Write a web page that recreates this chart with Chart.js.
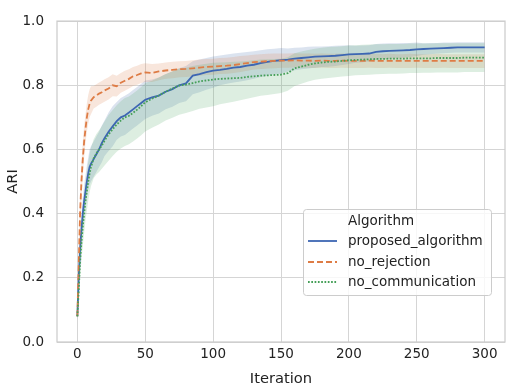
<!DOCTYPE html>
<html>
<head>
<meta charset="utf-8">
<script src="https://cdn.jsdelivr.net/npm/chart.js@4.4.1/dist/chart.umd.min.js"></script>
<style>
  html, body { margin: 0; padding: 0; background: #ffffff; }
  #wrap { width: 510px; height: 389px; }
</style>
</head>
<body>
<div id="wrap"><canvas id="c" width="510" height="389"></canvas></div>
<script>
const iterations = [0,1,2,3,4,5,6,7,8,9,10,12,14,16,18,20,23,26,29,32,35,38,41,44,47,50,
  55,60,65,70,75,80,85,90,95,100,105,110,115,120,125,130,135,140,145,150,
  155,160,165,170,175,180,185,190,195,200,205,210,215,220,225,230,235,240,245,250,
  255,260,265,270,275,280,285,290,295,300];

const seriesNames = ['proposed_algorithm', 'no_rejection', 'no_communication'];
const legendTitle = 'Algorithm';
const xTicks = [0, 50, 100, 150, 200, 250, 300];
const yTicks = [0.0, 0.2, 0.4, 0.6, 0.8, 1.0];

const proposedMean = [0.08,0.20,0.29,0.35,0.40,0.44,0.47,0.50,0.525,0.545,0.555,
  0.57,0.585,0.60,0.62,0.635,
  0.655,0.672,0.688,0.70,0.706,0.715,0.725,0.735,0.745,0.755,
  0.762,0.768,0.78,0.788,0.80,0.806,0.83,0.835,0.841,0.846,
  0.848,0.851,0.855,0.857,0.861,0.864,0.869,0.873,0.876,0.878,
  0.880,0.883,0.885,0.887,0.889,0.890,0.891,0.892,0.894,0.896,
  0.897,0.898,0.899,0.904,0.906,0.907,0.908,0.909,0.910,0.912,
  0.913,0.914,0.915,0.916,0.917,0.918,0.918,0.918,0.918,0.918];
const proposedLow = [0.07,0.16,0.24,0.30,0.35,0.39,0.42,0.45,0.475,0.49,0.50,
  0.515,0.53,0.545,0.56,0.58,
  0.595,0.61,0.63,0.64,0.645,0.655,0.665,0.675,0.685,0.695,
  0.705,0.712,0.725,0.733,0.745,0.75,0.772,0.778,0.786,0.792,
  0.800,0.805,0.809,0.812,0.816,0.820,0.826,0.830,0.834,0.836,
  0.843,0.847,0.850,0.852,0.855,0.857,0.858,0.860,0.863,0.866,
  0.870,0.872,0.874,0.879,0.881,0.883,0.885,0.886,0.888,0.891,
  0.895,0.897,0.899,0.900,0.901,0.902,0.902,0.902,0.902,0.902];
const proposedHigh = [0.09,0.24,0.34,0.40,0.45,0.49,0.52,0.55,0.575,0.60,0.61,
  0.625,0.64,0.655,0.675,0.69,
  0.715,0.735,0.748,0.76,0.767,0.775,0.785,0.795,0.805,0.815,
  0.818,0.824,0.835,0.843,0.853,0.86,0.875,0.88,0.885,0.89,
  0.893,0.896,0.899,0.901,0.904,0.906,0.909,0.912,0.914,0.916,
  0.915,0.917,0.918,0.920,0.921,0.921,0.922,0.923,0.924,0.925,
  0.923,0.924,0.925,0.929,0.930,0.931,0.931,0.932,0.932,0.933,
  0.931,0.932,0.932,0.933,0.933,0.934,0.934,0.934,0.934,0.934];

const noRejectionMean = [0.08,0.24,0.40,0.50,0.57,0.625,0.665,0.70,0.725,0.742,0.752,
  0.763,0.768,0.774,0.778,0.784,
  0.79,0.80,0.797,0.808,0.814,0.82,0.828,0.832,0.837,0.84,
  0.838,0.843,0.846,0.848,0.850,0.851,0.853,0.855,0.857,0.858,
  0.860,0.861,0.863,0.866,0.869,0.872,0.874,0.875,0.876,0.877,
  0.877,0.878,0.877,0.877,0.876,0.877,0.876,0.876,0.877,0.876,
  0.876,0.876,0.877,0.876,0.876,0.876,0.876,0.876,0.876,0.876,
  0.876,0.876,0.876,0.876,0.876,0.876,0.876,0.876,0.876,0.876];
const noRejectionLow = [0.07,0.19,0.34,0.44,0.515,0.575,0.62,0.655,0.68,0.70,0.71,
  0.728,0.733,0.739,0.744,0.749,
  0.756,0.766,0.765,0.777,0.783,0.79,0.798,0.802,0.807,0.81,
  0.81,0.816,0.82,0.822,0.825,0.826,0.828,0.83,0.832,0.833,
  0.835,0.836,0.838,0.841,0.845,0.849,0.851,0.852,0.853,0.855,
  0.855,0.856,0.855,0.855,0.854,0.855,0.854,0.854,0.855,0.854,
  0.854,0.854,0.855,0.854,0.854,0.855,0.854,0.854,0.854,0.855,
  0.854,0.854,0.854,0.855,0.854,0.854,0.854,0.854,0.854,0.854];
const noRejectionHigh = [0.09,0.29,0.46,0.56,0.625,0.675,0.71,0.745,0.77,0.787,0.797,
  0.798,0.803,0.809,0.813,0.819,
  0.825,0.834,0.83,0.838,0.845,0.85,0.857,0.861,0.866,0.869,
  0.866,0.868,0.871,0.873,0.875,0.876,0.878,0.88,0.882,0.883,
  0.885,0.886,0.888,0.891,0.893,0.895,0.897,0.898,0.899,0.899,
  0.899,0.900,0.899,0.899,0.898,0.899,0.898,0.898,0.899,0.898,
  0.898,0.898,0.899,0.898,0.897,0.898,0.897,0.897,0.898,0.897,
  0.897,0.897,0.898,0.897,0.897,0.897,0.897,0.897,0.897,0.897];

const noCommunicationMean = [0.08,0.16,0.25,0.31,0.36,0.40,0.44,0.47,0.50,0.525,0.545,
  0.572,0.588,0.60,0.612,0.627,
  0.647,0.663,0.678,0.69,0.70,0.705,0.714,0.724,0.735,0.747,
  0.758,0.768,0.78,0.79,0.799,0.802,0.807,0.812,0.815,0.818,
  0.820,0.821,0.822,0.823,0.826,0.828,0.830,0.831,0.832,0.833,
  0.838,0.853,0.858,0.864,0.868,0.871,0.873,0.874,0.876,0.878,
  0.879,0.880,0.881,0.882,0.882,0.883,0.883,0.883,0.884,0.884,
  0.884,0.884,0.885,0.885,0.885,0.885,0.886,0.886,0.886,0.886];
const noCommunicationLow = [0.07,0.12,0.20,0.255,0.30,0.34,0.38,0.41,0.44,0.465,0.485,
  0.51,0.522,0.53,0.54,0.55,
  0.565,0.58,0.593,0.603,0.611,0.616,0.625,0.634,0.644,0.656,
  0.668,0.678,0.69,0.699,0.708,0.714,0.72,0.727,0.731,0.735,
  0.741,0.745,0.749,0.753,0.758,0.763,0.767,0.77,0.773,0.776,
  0.783,0.798,0.805,0.812,0.817,0.82,0.823,0.825,0.827,0.829,
  0.831,0.832,0.833,0.834,0.835,0.836,0.836,0.837,0.838,0.838,
  0.839,0.839,0.84,0.84,0.84,0.84,0.841,0.841,0.841,0.841];
const noCommunicationHigh = [0.09,0.20,0.30,0.365,0.42,0.46,0.50,0.53,0.56,0.585,0.605,
  0.632,0.648,0.66,0.672,0.687,
  0.707,0.723,0.738,0.75,0.76,0.765,0.774,0.784,0.795,0.807,
  0.814,0.824,0.834,0.844,0.852,0.855,0.86,0.864,0.867,0.87,
  0.871,0.872,0.873,0.874,0.876,0.878,0.88,0.881,0.882,0.883,
  0.887,0.90,0.905,0.91,0.914,0.917,0.919,0.92,0.922,0.924,
  0.925,0.926,0.927,0.928,0.928,0.929,0.929,0.929,0.93,0.93,
  0.93,0.93,0.931,0.931,0.931,0.931,0.931,0.931,0.931,0.931];

const colors = ['#3d66b3', '#de7c45', '#459f58'];
const bandColors = ['rgba(76,114,176,0.2)', 'rgba(221,132,82,0.2)', 'rgba(85,168,104,0.2)'];
const dashes = [[], [6, 3], [1.7, 1.6]];

const means = [proposedMean, noRejectionMean, noCommunicationMean];
const lows = [proposedLow, noRejectionLow, noCommunicationLow];
const highs = [proposedHigh, noRejectionHigh, noCommunicationHigh];

const pts = ys => iterations.map((x, i) => ({ x: x, y: ys[i] }));

const datasets = [];
for (let k = 0; k < 3; k++) {
  datasets.push({ label: seriesNames[k] + ' hi', data: pts(highs[k]), borderWidth: 0, pointRadius: 0,
    backgroundColor: bandColors[k], borderColor: 'rgba(0,0,0,0)', fill: '+1', order: 20 - k, isBand: true });
  datasets.push({ label: seriesNames[k] + ' lo', data: pts(lows[k]), borderWidth: 0, pointRadius: 0,
    backgroundColor: bandColors[k], borderColor: 'rgba(0,0,0,0)', fill: false, order: 20 - k, isBand: true });
}
for (let k = 0; k < 3; k++) {
  datasets.push({ label: seriesNames[k], data: pts(means[k]), borderColor: colors[k], borderWidth: 1.8,
    borderDash: dashes[k], borderCapStyle: 'butt', pointRadius: 0, fill: false, tension: 0, order: 3 - k });
}

const FONT = 'DejaVu Sans';
const TEXT = '#222222';

const framePlugin = {
  id: 'frame',
  afterDatasetsDraw(chart) {
    const a = chart.chartArea, ctx = chart.ctx;
    ctx.save();
    ctx.strokeStyle = '#cccccc';
    ctx.lineWidth = 1.25;
    ctx.strokeRect(a.left, a.top, a.right - a.left, a.bottom - a.top);
    ctx.restore();
  },
  afterDraw(chart) {
    const ctx = chart.ctx;
    const lines = chart.data.datasets.filter(d => !d.isBand);
    const bx = 303.5, by = 209.5, bw = 188, bh = 86;
    ctx.save();
    ctx.beginPath();
    ctx.roundRect(bx, by, bw, bh, 3);
    ctx.fillStyle = 'rgba(255,255,255,0.8)';
    ctx.fill();
    ctx.strokeStyle = '#cccccc';
    ctx.lineWidth = 1;
    ctx.stroke();
    ctx.font = '13.5px "' + FONT + '"';
    ctx.fillStyle = TEXT;
    ctx.textBaseline = 'middle';
    ctx.textAlign = 'left';
    const tx = 348;
    ctx.fillText(legendTitle, tx, 221);
    const ys = [241, 262, 282];
    lines.forEach((d, i) => {
      ctx.beginPath();
      ctx.setLineDash(d.borderDash || []);
      ctx.lineCap = 'butt';
      ctx.strokeStyle = d.borderColor;
      ctx.lineWidth = 1.8;
      ctx.moveTo(308, ys[i]);
      ctx.lineTo(337, ys[i]);
      ctx.stroke();
      ctx.setLineDash([]);
      ctx.fillStyle = TEXT;
      ctx.fillText(d.label, tx, ys[i]);
    });
    ctx.restore();
  }
};

new Chart(document.getElementById('c'), {
  type: 'line',
  data: { datasets: datasets },
  options: {
    responsive: false,
    animation: false,
    devicePixelRatio: 1,
    layout: { padding: { top: 8, right: 5, left: 0, bottom: 0 } },
    plugins: { legend: { display: false }, tooltip: { enabled: false } },
    elements: { point: { radius: 0 }, line: { tension: 0 } },
    scales: {
      x: {
        type: 'linear', min: -15, max: 315,
        afterBuildTicks: s => { s.ticks = xTicks.map(v => ({ value: v })); },
        afterFit: s => { s.height = 47; },
        ticks: { font: { family: FONT, size: 13.5 }, color: TEXT, padding: 4, maxRotation: 0, autoSkip: false,
          callback: v => String(v) },
        grid: { color: '#d5d5d5', lineWidth: 1, drawTicks: false },
        border: { display: false },
        title: { display: true, text: 'Iteration', font: { family: FONT, size: 14.7 }, color: TEXT,
          padding: { top: 0, bottom: 1 } }
      },
      y: {
        type: 'linear', min: 0, max: 1.0,
        afterBuildTicks: s => { s.ticks = yTicks.map(v => ({ value: v })); },
        afterFit: s => { s.width = 57; },
        ticks: { font: { family: FONT, size: 13.5 }, color: TEXT, padding: 13,
          callback: v => Number(v).toFixed(1) },
        grid: { color: '#d5d5d5', lineWidth: 1, drawTicks: false },
        border: { display: false },
        title: { display: true, text: 'ARI', font: { family: FONT, size: 14.7 }, color: TEXT,
          padding: { top: 4, bottom: 0 } }
      }
    }
  },
  plugins: [framePlugin]
});
</script>
</body>
</html>
